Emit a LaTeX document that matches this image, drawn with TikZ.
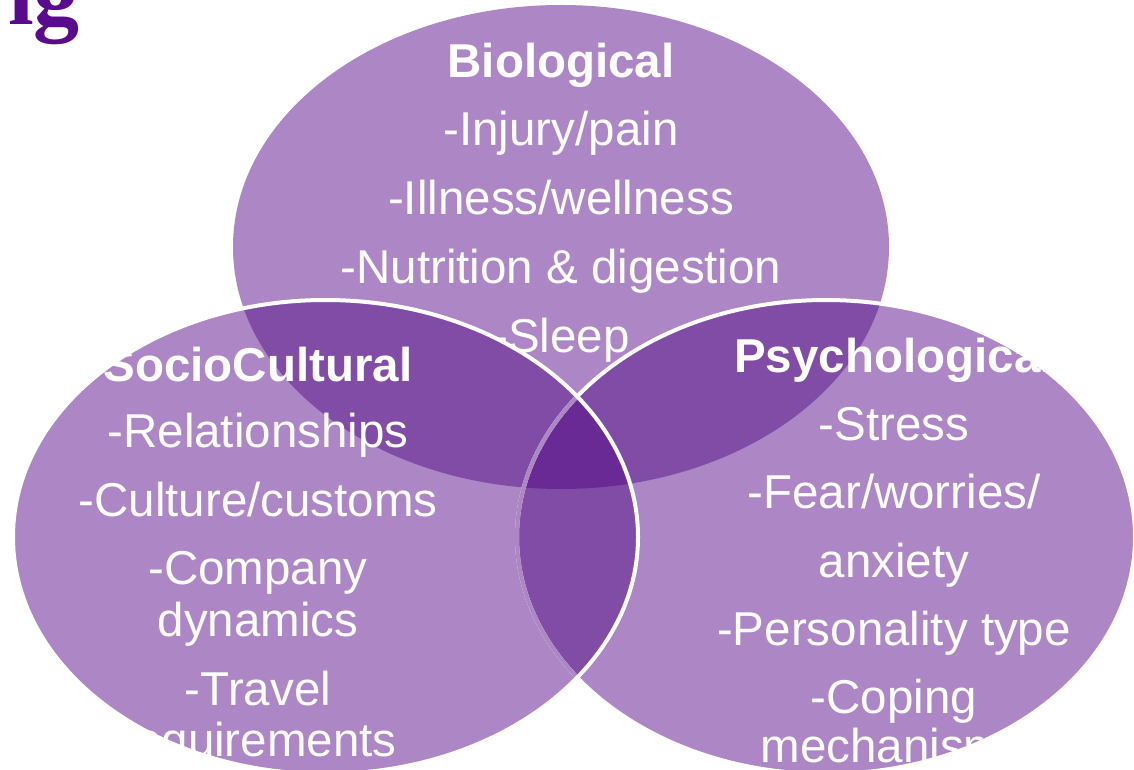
\documentclass[tikz,border=0pt]{standalone}
\usepackage{fontspec}
\setmainfont{Liberation Sans}
\newfontfamily\headserif{Liberation Serif}
\definecolor{oneset}{RGB}{172,134,197}
\definecolor{twosets}{RGB}{128,76,166}
\definecolor{threesets}{RGB}{105,42,150}
\definecolor{headpurple}{RGB}{90,10,140}
\begin{document}
\begin{tikzpicture}[x=1pt,y=-1pt,
  label/.style={text=white,font=\fontsize{47.5}{51}\selectfont,anchor=base,inner sep=0pt},
  heading/.style={label,font=\fontsize{47.5}{51}\selectfont\bfseries},
  rim/.style={line width=4pt}]
\useasboundingbox (0,0) rectangle (1134,770);
\clip (0,0) rectangle (1134,770);
% the three circles of the model
\def\ringBio{(561,247) ellipse [x radius=328pt, y radius=242pt]}
\def\ringSoc{(325.5,537) ellipse [x radius=312.5pt, y radius=237pt]}
\def\ringPsy{(826,537) ellipse [x radius=309pt, y radius=237pt]}
% plain areas
\fill[oneset] \ringBio;
\fill[oneset] \ringSoc;
\fill[oneset] \ringPsy;
% biological text sits beneath the lower circles
\node[heading] (bioH) at (561,78) {Biological};
\node[label] (bio1) at (561,146) {-Injury/pain};
\node[label] (bio2) at (561,214) {-Illness/wellness};
\node[label] (bio3) at (561,283) {-Nutrition \& digestion};
\node[label] (bio4) at (561,352) {-Sleep};
% pairwise overlaps
\begin{scope}\clip \ringBio; \fill[twosets] \ringSoc; \fill[twosets] \ringPsy; \end{scope}
\begin{scope}\clip \ringSoc; \fill[twosets] \ringPsy; \end{scope}
% centre where all three meet
\begin{scope}\clip \ringBio; \clip \ringSoc; \fill[threesets] \ringPsy; \end{scope}
% outlines: the psychological rim shows through the sociocultural disc
\draw[rim,white] \ringPsy;
\begin{scope}\clip \ringSoc; \draw[rim,oneset] \ringPsy; \end{scope}
\draw[rim,white] \ringSoc;
% heading fragment
\node[anchor=base east,inner sep=0pt,text=headpurple,font=\headserif\fontsize{92}{92}\selectfont\bfseries] (head) at (80,25) {ig};
% sociocultural
\node[heading] (socH) at (258,381) {SocioCultural};
\node[label] (soc1) at (258,447) {-Relationships};
\node[label] (soc2) at (258,516) {-Culture/customs};
\node[label] (soc3) at (258,584) {-Company};
\node[label] (soc4) at (258,636) {dynamics};
\node[label] (soc5) at (258,705) {-Travel};
\node[label] (soc6) at (258,756) {requirements};
% psychological
\node[heading] (psyH) at (894,372) {Psychological};
\node[label] (psy1) at (894,440) {-Stress};
\node[label] (psy2) at (894,508) {-Fear/worries/};
\node[label] (psy3) at (894,577) {anxiety};
\node[label] (psy4) at (894,645) {-Personality type};
\node[label] (psy5) at (894,713) {-Coping};
\node[label] (psy6) at (894,762) {mechanisms};
\end{tikzpicture}
\end{document}
